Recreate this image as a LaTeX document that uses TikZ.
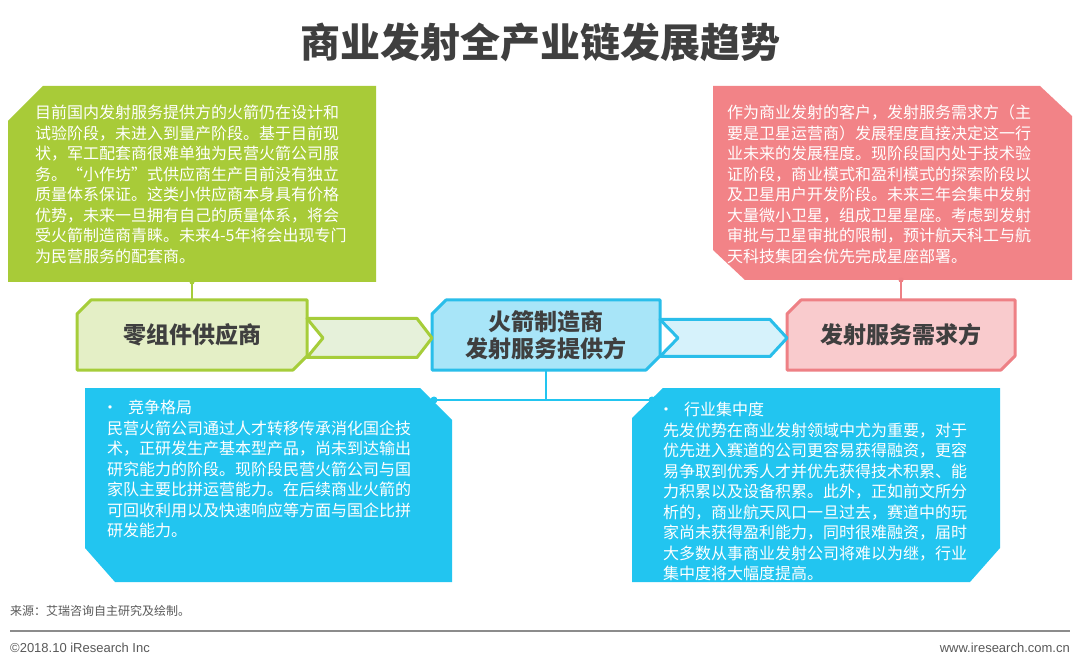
\documentclass[tikz,border=0pt]{standalone}
\usepackage{fontspec}
\setmainfont{Noto Sans CJK SC}
\newfontfamily\latinfont{Liberation Sans}
\usetikzlibrary{calc}
\definecolor{gbig}{HTML}{A8CB38}
\definecolor{pbig}{HTML}{F28387}
\definecolor{bbig}{HTML}{22C5F0}
\definecolor{gfill}{HTML}{E4EFC6}
\definecolor{gline}{HTML}{A6CD3A}
\definecolor{bfill}{HTML}{A8E5F8}
\definecolor{bline}{HTML}{2ABEEA}
\definecolor{pfill}{HTML}{F9CBCD}
\definecolor{pline}{HTML}{EE8085}
\definecolor{garrow}{HTML}{E6F1DA}
\definecolor{barrow}{HTML}{D6F2FB}
\definecolor{titlec}{HTML}{3F3F3F}
\definecolor{footc}{HTML}{595959}
\pgfdeclarelayer{bg}
\pgfsetlayers{bg,main}
\newcommand{\mybullet}{\makebox[21pt][l]{\hspace{-5pt}•}}
\begin{document}
\begin{tikzpicture}[x=1pt,y=-1pt,
  area/.style={inner sep=0pt,outer sep=0pt,draw=none},
  bodytext/.style={align=left,inner sep=0pt,text=white,font=\fontsize{16}{20.5}\selectfont},
  midtext/.style={area,align=center,text=titlec,font=\fontsize{23}{27}\selectfont\bfseries,minimum height=70pt},
  midbox/.style={line width=3pt,line join=round},
  conn/.style={line width=2pt}]
\useasboundingbox (0,0) rectangle (1080,663);

% title
\node[font=\fontsize{40}{42}\selectfont\bfseries,text=titlec] (title) at (540,42) {商业发射全产业链发展趋势};

% big boxes (frames)
\node[area,minimum width=368pt,minimum height=196pt] (G) at (192,184) {};
\node[area,minimum width=359pt,minimum height=194pt] (P) at (892.5,183) {};
\node[area,minimum width=367pt,minimum height=194pt] (BL) at (268.5,485) {};
\node[area,minimum width=368pt,minimum height=194pt] (BR) at (816,485) {};

% middle boxes
\node[midtext,minimum width=230pt] (M1) at (192,335) {零组件供应商};
\node[midtext,minimum width=228pt] (M2) at (546,335) {火箭制造商\\发射服务提供方};
\node[midtext,minimum width=228pt] (M3) at (901,335) {发射服务需求方};

% texts
\node[bodytext,anchor=north west] (Gt) at (35,105) {目前国内发射服务提供方的火箭仍在设计和\\试验阶段，未进入到量产阶段。基于目前现\\状，军工配套商很难单独为民营火箭公司服\\务。“小作坊”式供应商生产目前没有独立\\质量体系保证。这类小供应商本身具有价格\\优势，未来一旦拥有自己的质量体系，将会\\受火箭制造商青睐。未来4-5年将会出现专门\\为民营服务的配套商。};
\node[bodytext,anchor=north west] (Pt) at (727,105) {作为商业发射的客户，发射服务需求方（主\\要是卫星运营商）发展程度直接决定这一行\\业未来的发展程度。现阶段国内处于技术验\\证阶段，商业模式和盈利模式的探索阶段以\\及卫星用户开发阶段。未来三年会集中发射\\大量微小卫星，组成卫星星座。考虑到发射\\审批与卫星审批的限制，预计航天科工与航\\天科技集团会优先完成星座部署。};
\node[bodytext,anchor=north west] (BLt) at (107,400) {\mybullet 竞争格局\\民营火箭公司通过人才转移传承消化国企技\\术，正研发生产基本型产品，尚未到达输出\\研究能力的阶段。现阶段民营火箭公司与国\\家队主要比拼运营能力。在后续商业火箭的\\可回收利用以及快速响应等方面与国企比拼\\研发能力。};
\node[bodytext,anchor=north west] (BRt) at (663,402) {\mybullet 行业集中度\\先发优势在商业发射领域中尤为重要，对于\\优先进入赛道的公司更容易获得融资，更容\\易争取到优秀人才并优先获得技术积累、能\\力积累以及设备积累。此外，正如前文所分\\析的，商业航天风口一旦过去，赛道中的玩\\家尚未获得盈利能力，同时很难融资，届时\\大多数从事商业发射公司将难以为继，行业\\集中度将大幅度提高。};

% connector hub points
\coordinate (cl) at (434,400);
\coordinate (cr) at (652,400);

\begin{pgfonlayer}{bg}
\fill[white] (0,0) rectangle (1080,663);
% big shapes
\fill[gbig] (G.south west) -- ([yshift=-35pt]G.north west) -- ([xshift=35pt]G.north west) -- (G.north east) -- (G.south east) -- cycle;
\fill[pbig] (P.north west) -- ([xshift=-32pt]P.north east) -- ([yshift=-30pt]P.north east) -- (P.south east) -- ([xshift=32pt]P.south west) -- ([yshift=30pt]P.south west) -- cycle;
\fill[bbig] (BL.north west) -- ([xshift=-32pt]BL.north east) -- ([yshift=-32pt]BL.north east) -- (BL.south east) -- ([xshift=30pt]BL.south west) -- ([yshift=34pt]BL.south west) -- cycle;
\fill[bbig] ([yshift=-30pt]BR.north west) -- ([xshift=31pt]BR.north west) -- (BR.north east) -- ([yshift=34pt]BR.south east) -- ([xshift=-30pt]BR.south east) -- (BR.south west) -- cycle;

% connectors
\draw[conn,gline] (G.south) -- (M1.north);
\fill[gline] (G.south) circle (2.5pt);
\draw[conn,pline] (M3.north |- P.south) -- (M3.north);
\fill[pline] (M3.north |- P.south) circle (2.5pt);
\draw[conn,bbig] (M2.south) |- (cl);
\draw[conn,bbig] (M2.south) |- (cr);
\fill[bbig] (cl) circle (3.5pt);
\fill[bbig] (cr) circle (3.5pt);

% middle boxes shapes
\path[midbox,draw=gline,fill=gfill] ([yshift=-14pt]M1.north west) -- ([xshift=14pt]M1.north west) -- (M1.north east) -- ([yshift=14pt]M1.south east) -- ([xshift=-14pt]M1.south east) -- (M1.south west) -- cycle;
\path[midbox,draw=bline,fill=bfill] ([yshift=-14pt]M2.north west) -- ([xshift=14pt]M2.north west) -- (M2.north east) -- ([yshift=14pt]M2.south east) -- ([xshift=-14pt]M2.south east) -- (M2.south west) -- cycle;
\path[midbox,draw=pline,fill=pfill] ([yshift=-14pt]M3.north west) -- ([xshift=14pt]M3.north west) -- (M3.north east) -- ([yshift=14pt]M3.south east) -- ([xshift=-14pt]M3.south east) -- (M3.south west) -- cycle;

% arrows
\coordinate (a1s) at ([yshift=-3pt]M1.east);
\coordinate (a1e) at ([yshift=-3pt]M2.west);
\path[midbox,draw=gline,fill=garrow] ([yshift=19.5pt]a1s) -- ([xshift=-15pt,yshift=19.5pt]a1e) -- (a1e) -- ([xshift=-15pt,yshift=-19.5pt]a1e) -- ([yshift=-19.5pt]a1s) -- ([xshift=16pt]a1s) -- cycle;
\coordinate (a2s) at ([yshift=-3pt]M2.east);
\coordinate (a2e) at ([yshift=-3pt]M3.west);
\path[midbox,draw=bline,fill=barrow] ([yshift=18.5pt]a2s) -- ([xshift=-17pt,yshift=18.5pt]a2e) -- (a2e) -- ([xshift=-17pt,yshift=-18.5pt]a2e) -- ([yshift=-18.5pt]a2s) -- ([xshift=18pt]a2s) -- cycle;
\end{pgfonlayer}

% footer
\node[anchor=west,inner sep=0pt,text=footc,font=\fontsize{12}{14}\selectfont] (src) at (10,611) {来源：艾瑞咨询自主研究及绘制。};
\coordinate (rl) at (10,631);
\coordinate (rr) at (1070,631);
\draw[line width=1.5pt,color=black!45] (rl) -- (rr);
\node[anchor=west,inner sep=0pt,text=footc,font=\latinfont\fontsize{13}{15}\selectfont] (copy) at (10,648) {©2018.10 iResearch Inc};
\node[anchor=east,inner sep=0pt,text=footc,font=\latinfont\fontsize{13}{15}\selectfont] (web) at (1070,648) {www.iresearch.com.cn};
\end{tikzpicture}
\end{document}
